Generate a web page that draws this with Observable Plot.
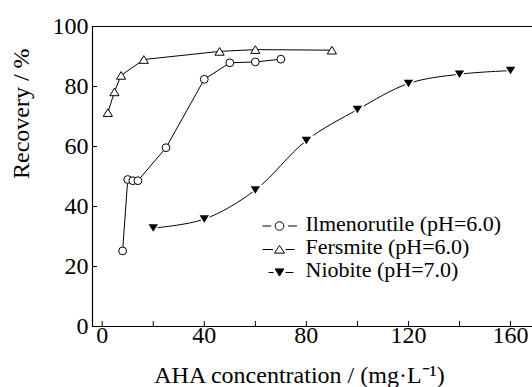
<!DOCTYPE html>
<html><head><meta charset="utf-8">
<script src="https://cdn.jsdelivr.net/npm/d3@7"></script>
<script src="https://cdn.jsdelivr.net/npm/@observablehq/plot@0.6"></script>
<style>
body{margin:0;background:#fff}
#chart svg text, #chart svg tspan { font-family: "Liberation Serif", serif !important; }
</style>
</head><body><div id="chart"></div>
<script>
// ---- data ----
const ilmX = [8, 10, 12, 14, 25, 40, 50, 60, 70];
const ilmY = [25.2, 49.0, 48.6, 48.6, 59.6, 82.4, 87.9, 88.2, 89.1];
const ferX = [2.2, 4.8, 7.4, 16.3, 46, 60, 90];
const ferY = [71.3, 78.2, 83.7, 89.0, 91.7, 92.3, 92.1];
const nioX = [20, 40, 60, 80, 100, 120, 140, 160];
const nioY = [32.8, 35.8, 45.5, 62.0, 72.3, 81.0, 84.1, 85.3];

const xMajor = [0, 40, 80, 120, 160];
const xMinor = [20, 60, 100, 140];
const yTicks = [0, 20, 40, 60, 80, 100];
const xDomain = [-3.8, 168.6];
const yDomain = [0, 100];

const seriesNames = ["Ilmenorutile (pH=6.0)", "Fersmite (pH=6.0)", "Niobite (pH=7.0)"];
const xTitle = "AHA concentration / (mg·L⁻¹)";
const yTitle = "Recovery / %";

const toRows = (xs, ys, name) => xs.map((x, i) => ({x, y: ys[i], series: name}));
const ilm = toRows(ilmX, ilmY, seriesNames[0]);
const fer = toRows(ferX, ferY, seriesNames[1]);
const nio = toRows(nioX, nioY, seriesNames[2]);

// ---- custom symbols ----
const triUp = {draw(ctx, size) {
  const r = Math.sqrt(size / Math.PI), w = r, h = 0.83 * r;
  ctx.moveTo(0, -h); ctx.lineTo(w, h); ctx.lineTo(-w, h); ctx.closePath();
}};
const triDown = {draw(ctx, size) {
  const r = Math.sqrt(size / Math.PI), w = r, h = 0.8 * r;
  ctx.moveTo(0, h); ctx.lineTo(w, -h); ctx.lineTo(-w, -h); ctx.closePath();
}};
const legCircle = {draw(ctx) {
  ctx.moveTo(-17, 0); ctx.lineTo(-8.3, 0);
  ctx.moveTo(4.3, 0); ctx.arc(0, 0, 4.3, 0, 2 * Math.PI);
  ctx.moveTo(8.3, 0); ctx.lineTo(17.5, 0);
}};
const legTri = {draw(ctx) {
  ctx.moveTo(-17, 0); ctx.lineTo(-6.5, 0);
  ctx.moveTo(0, -4); ctx.lineTo(5, 3.6); ctx.lineTo(-5, 3.6); ctx.closePath();
  ctx.moveTo(6, 0); ctx.lineTo(15, 0);
}};
const legTriDown = {draw(ctx) {
  ctx.moveTo(-11, 0); ctx.lineTo(-6, 0);
  ctx.moveTo(0, 3.6); ctx.lineTo(4.3, -3.6); ctx.lineTo(-4.3, -3.6); ctx.closePath();
  ctx.moveTo(6, 0); ctx.lineTo(14, 0);
}};

const font = "Liberation Serif";

const chart = Plot.plot({
  width: 532,
  height: 387,
  marginLeft: 92,
  marginRight: 0,
  marginTop: 26,
  marginBottom: 61,
  style: "font-family: 'Liberation Serif', serif; font-size: 24px; color: black; background: white;",
  x: {domain: xDomain},
  y: {domain: yDomain},
  marks: [
    Plot.axisX(xMajor, {tickSize: -5, tickPadding: 4, fontSize: 24, fontFamily: font, label: null, stroke: "black"}),
    Plot.axisX(xMinor, {tickSize: -5, tickFormat: () => "", label: null, stroke: "black"}),
    Plot.axisY(yTicks, {tickSize: -5, tickPadding: 9, fontSize: 24, fontFamily: font, label: null, stroke: "black"}),
    Plot.ruleY([yDomain[0]], {stroke: "black", strokeWidth: 1.2}),
    Plot.ruleY([yDomain[1]], {stroke: "black", strokeWidth: 1.2}),
    Plot.ruleX([xDomain[0]], {stroke: "black", strokeWidth: 1.2}),

    Plot.line(ilm, {x: "x", y: "y", stroke: "black", strokeWidth: 1}),
    Plot.dot(ilm, {x: "x", y: "y", r: 3.9, fill: "white", stroke: "black", strokeWidth: 1}),
    Plot.line(fer, {x: "x", y: "y", stroke: "black", strokeWidth: 1}),
    Plot.dot(fer, {x: "x", y: "y", symbol: triUp, r: 4.6, fill: "white", stroke: "black", strokeWidth: 1}),
    Plot.line(nio, {x: "x", y: "y", curve: "catmull-rom", stroke: "black", strokeWidth: 1}),
    Plot.dot(nio, {x: "x", y: "y", symbol: triDown, r: 4.7, fill: "black", stroke: "white", strokeWidth: 3, paintOrder: "stroke"}),

    // legend
    Plot.dot([seriesNames[0]], {frameAnchor: "top-left", dx: 279 - 92, dy: 225.5 - 26, symbol: legCircle, r: 1, fill: "white", stroke: "black", strokeWidth: 1}),
    Plot.dot([seriesNames[1]], {frameAnchor: "top-left", dx: 279 - 92, dy: 249 - 26, symbol: legTri, r: 1, fill: "white", stroke: "black", strokeWidth: 1}),
    Plot.dot([seriesNames[2]], {frameAnchor: "top-left", dx: 279 - 92, dy: 272 - 26, symbol: legTriDown, r: 1, fill: "black", stroke: "black", strokeWidth: 1}),
    Plot.text([seriesNames.join("\n")], {frameAnchor: "top-left", dx: 305 - 92, dy: 246.5 - 26, text: d => d, textAnchor: "start", lineAnchor: "middle", lineHeight: 1.045, fontSize: 22, fontFamily: font, fill: "black"}),

    // axis titles
    Plot.text([xTitle], {frameAnchor: "bottom", dx: -13, dy: 49, text: d => d, lineAnchor: "middle", fontSize: 24, fontFamily: font, fill: "black"}),
    Plot.text([yTitle], {frameAnchor: "left", dx: -70.7, dy: 2.5, rotate: -90, text: d => d, lineAnchor: "middle", fontSize: 24, fontFamily: font, fill: "black"})
  ]
});
document.getElementById("chart").appendChild(chart);
</script></body></html>
